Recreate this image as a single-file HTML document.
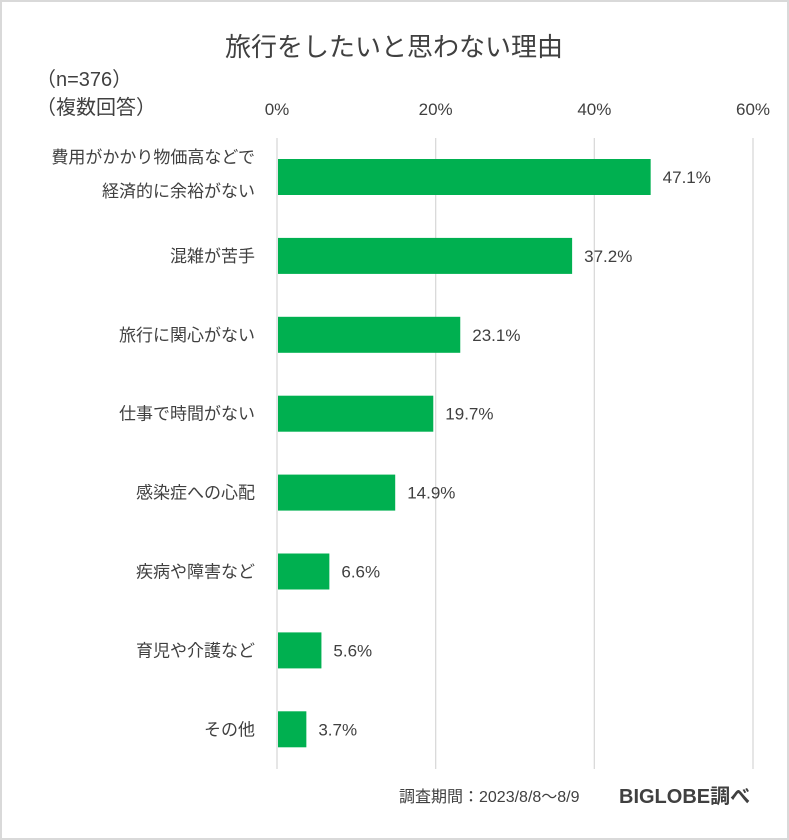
<!DOCTYPE html>
<html><head><meta charset="utf-8"><style>
html,body{margin:0;padding:0;background:#fff}
#wrap{position:relative;width:785px;height:836px;border:2px solid #d9d9d9;overflow:hidden;font-family:"Liberation Sans","Noto Sans CJK JP",sans-serif;color:#404040}
svg text{font-family:"Liberation Sans","Noto Sans CJK JP",sans-serif}
</style></head><body>
<div id="wrap">
<svg id="chart" width="785" height="836"></svg>
</div>
<script>
const categories=[["費用がかかり物価高などで","経済的に余裕がない"],["混雑が苦手"],["旅行に関心がない"],["仕事で時間がない"],["感染症への心配"],["疾病や障害など"],["育児や介護など"],["その他"]];
const values=[47.1,37.2,23.1,19.7,14.9,6.6,5.6,3.7];
const ticks=[0,20,40,60];
const NS="http://www.w3.org/2000/svg";
const svg=document.getElementById('chart');
const x0=275,pxPer=(751-275)/60;
const xs=v=>x0+v*pxPer;
const yc=i=>175+i*78.9;
function mk(tag,attrs,txt){const e=document.createElementNS(NS,tag);for(const k in attrs)e.setAttribute(k,attrs[k]);if(txt!==undefined)e.textContent=txt;svg.appendChild(e);return e;}
let t=mk('text',{x:392,y:54,'text-anchor':'middle','font-size':26,fill:'#404040'},'旅行をしたいと思わない理由');


t=mk('text',{x:34,y:84,'font-size':20,fill:'#404040'},'（n=376）');


t=mk('text',{x:34,y:112,'font-size':20,fill:'#404040'},'（複数回答）');


ticks.forEach(v=>{
 const l=mk('line',{x1:xs(v),x2:xs(v),y1:136,y2:767,stroke:'#d9d9d9','stroke-width':1.3});
 
 
 const tx=mk('text',{x:xs(v),y:113,'text-anchor':'middle','font-size':17,fill:'#404040'},v+'%');
 
 
});
values.forEach((v,i)=>{
 const y=yc(i);
 const r=mk('rect',{x:x0+1,y:y-18,width:xs(v)-x0-1,height:36,fill:'#00b050'});
 
 
 const lb=mk('text',{x:xs(v)+12,y:y+6,'font-size':17,fill:'#404040'},v.toFixed(1)+'%');
 
 
 const c=categories[i];
 c.forEach((s,j)=>{
  const yy=c.length===2?y-14+j*34:y+6;
  const ct=mk('text',{x:253,y:yy,'text-anchor':'end','font-size':17,fill:'#404040'},s);
  
  
 });
});
t=mk('text',{x:397,y:800,'font-size':16,fill:'#404040'},'調査期間：2023/8/8～8/9');


t=mk('text',{x:617,y:801,'font-size':20,'font-weight':'bold',fill:'#404040'},'BIGLOBE調べ');


</script>
</body></html>
